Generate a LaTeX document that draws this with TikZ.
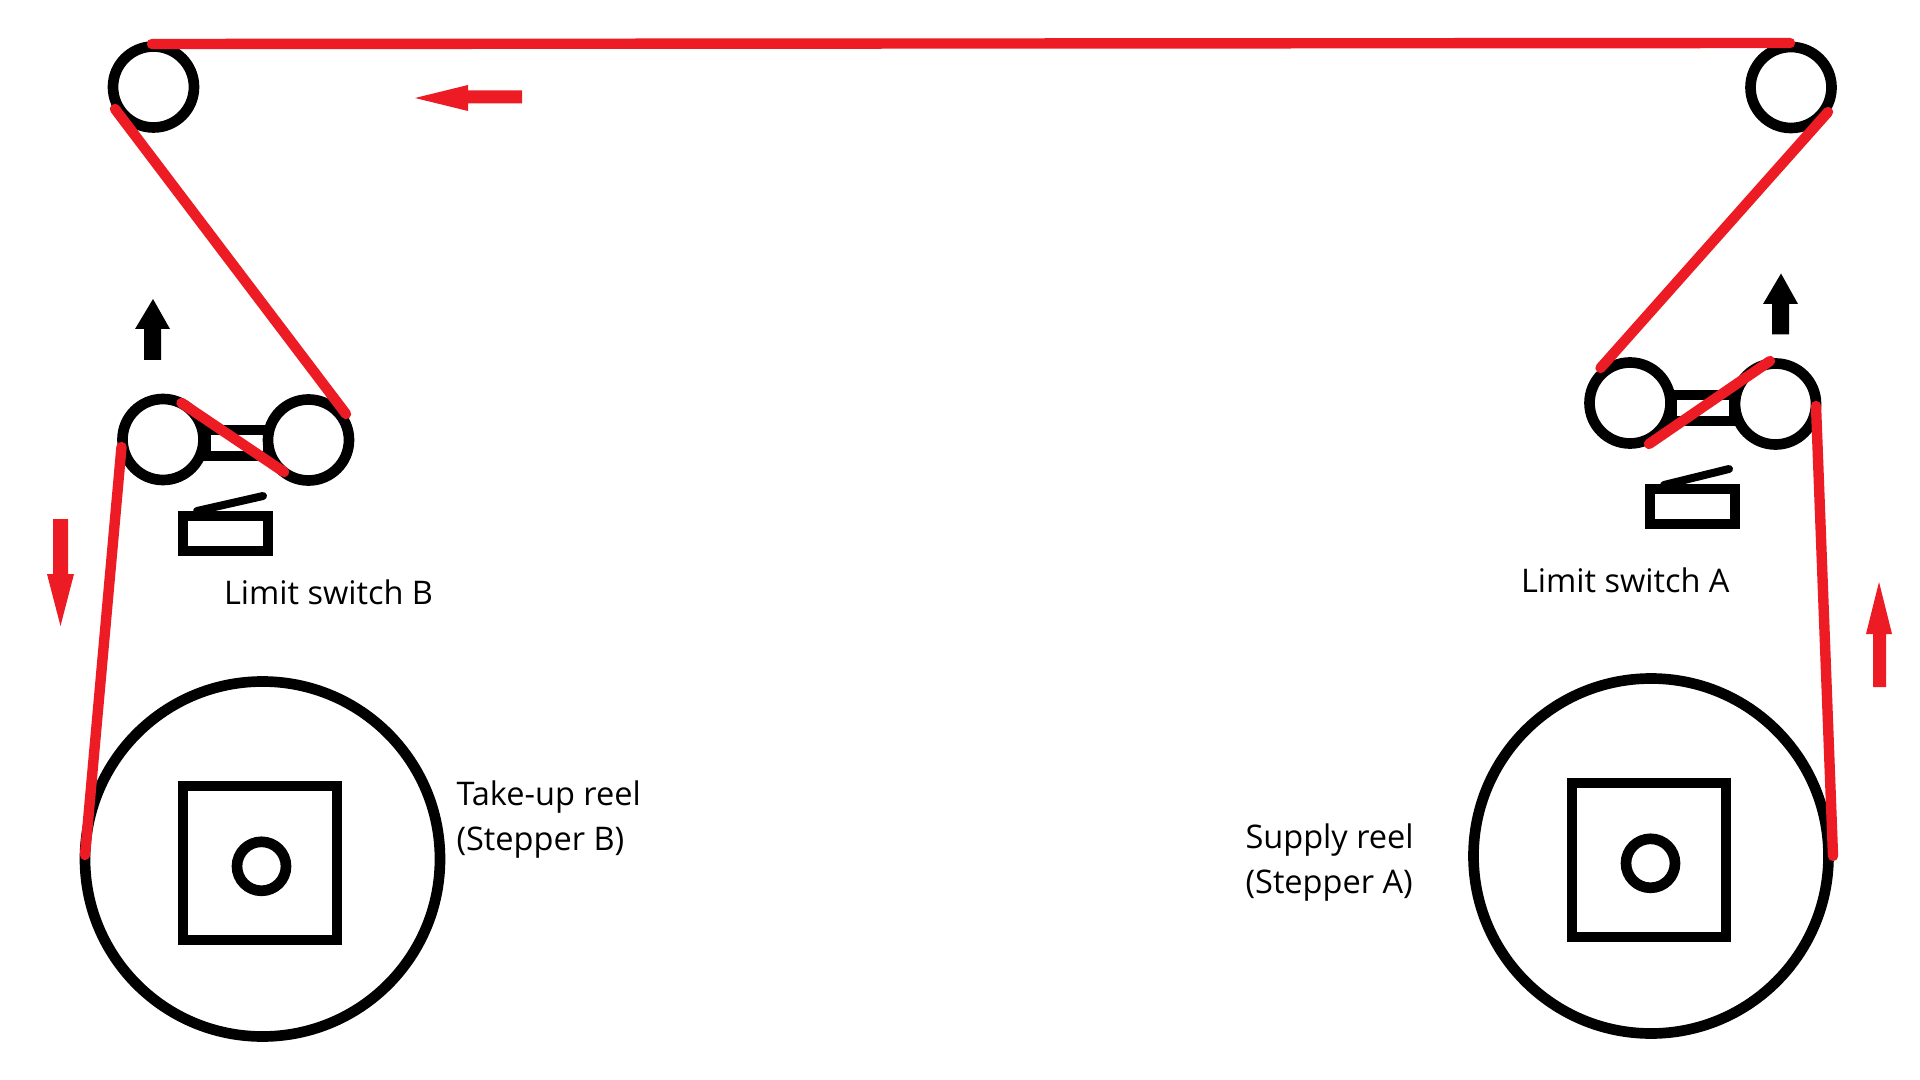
\documentclass[tikz,border=0pt]{standalone}
\usepackage{fontspec}
\setmainfont{Open Sans}
\definecolor{tapered}{HTML}{ED1C24}
\tikzset{
  wheel/.style={circle,draw=black,line width=8pt,inner sep=0pt,outer sep=0pt,minimum size=#1},
  frame/.style={rectangle,draw=black,line width=8pt,inner sep=0pt,outer sep=0pt},
  tape/.style={draw=tapered,line width=7.8pt,line cap=round},
  lever/.style={draw=black,line width=6pt,line cap=round},
  redmark/.style={fill=tapered},
  blackmark/.style={fill=black},
  caption/.style={anchor=base west,inner sep=0pt,outer sep=0pt,font=\fontsize{24.4pt}{28pt}\selectfont}
}
\begin{document}
\begin{tikzpicture}[x=0.75pt,y=-0.75pt]
\useasboundingbox (0,0) rectangle (1920,1080);
\fill[white] (0,0) rectangle (1920,1080);
% connecting links between dancer rollers
\node[frame,minimum width=46.5pt,minimum height=19.5pt] (linkB) at (237,443) {};
\node[frame,minimum width=46.5pt,minimum height=19.5pt] (linkA) at (1703,408) {};
% idlers and dancer rollers
\node[wheel=60.75pt] (idlerL) at (153.5,87) {};
\node[wheel=60.75pt] (idlerR) at (1791,87.5) {};
\node[wheel=60.75pt] (rollBL) at (163,439.5) {};
\node[wheel=60.75pt] (rollBR) at (308.5,440) {};
\node[wheel=60.75pt] (rollAL) at (1630,403) {};
\node[wheel=60.75pt] (rollAR) at (1775.5,404) {};
% reels
\node[wheel=266.25pt] (reelB) at (262.5,859) {};
\node[wheel=266.25pt] (reelA) at (1651,856) {};
\node[frame,minimum width=115.5pt,minimum height=115.5pt] (motorB) at (260,863) {};
\node[frame,minimum width=115.5pt,minimum height=115.5pt] (motorA) at (1649,860) {};
\node[wheel=36.75pt] (hubB) at (261.5,866.3) {};
\node[wheel=36.75pt] (hubA) at (1650.5,863.3) {};
% limit switches
\node[frame,minimum width=63.75pt,minimum height=26.25pt] (switchB) at (225.5,533.5) {};
\node[frame,minimum width=63.75pt,minimum height=26.25pt] (switchA) at (1692.5,506.5) {};
\coordinate (lbA) at (197,511);
\coordinate (lbB) at (263,496);
\coordinate (laA) at (1664,485);
\coordinate (laB) at (1729,469);
\path[lever] (lbA) -- (lbB);
\path[lever] (laA) -- (laB);
% black arrows
\fill[blackmark] (153,299) -- (170,329) -- (161,329) -- (161,360) -- (144,360) -- (144,329) -- (135,329) -- cycle;
\fill[blackmark] (1781,273.5) -- (1798,304) -- (1789,304) -- (1789,334.5) -- (1772,334.5) -- (1772,304) -- (1763,304) -- cycle;
% red arrows
\fill[redmark] (415,98) -- (468,85) -- (468,90.5) -- (522,90.5) -- (522,103.5) -- (468,103.5) -- (468,111) -- cycle;
\fill[redmark] (60.5,626) -- (74,574) -- (68,574) -- (68,519) -- (53,519) -- (53,574) -- (47,574) -- cycle;
\fill[redmark] (1879,582) -- (1892,634) -- (1886,634) -- (1886,687) -- (1873,687) -- (1873,634) -- (1866,634) -- cycle;
% tape path
\coordinate (t1) at (85,855);
\coordinate (t2) at (121.5,447);
\coordinate (t3) at (181.5,403);
\coordinate (t4) at (284,472);
\coordinate (t5) at (115,109);
\coordinate (t6) at (346,414);
\coordinate (t7) at (152,44);
\coordinate (t8) at (1790,43);
\coordinate (t9) at (1828,112);
\coordinate (t10) at (1600.5,368);
\coordinate (t11) at (1770,361);
\coordinate (t12) at (1649,444);
\coordinate (t13) at (1816,406);
\coordinate (t14) at (1833,856);
\path[tape] (t1) -- (t2);
\path[tape] (t3) -- (t4);
\path[tape] (t5) -- (t6);
\path[tape] (t7) -- (t8);
\path[tape] (t9) -- (t10);
\path[tape] (t11) -- (t12);
\path[tape] (t13) -- (t14);
% labels
\node[caption] (capB) at (224,604.5) {Limit switch B};
\node[caption] (capA) at (1521,592) {Limit switch A};
\node[caption] (takeup) at (456.5,805.5) {Take-up reel};
\node[caption] (stepB) at (456.5,850.5) {(Stepper B)};
\node[caption] (supply) at (1245.5,848.5) {Supply reel};
\node[caption] (stepA) at (1245.5,893.5) {(Stepper A)};
\end{tikzpicture}
\end{document}
